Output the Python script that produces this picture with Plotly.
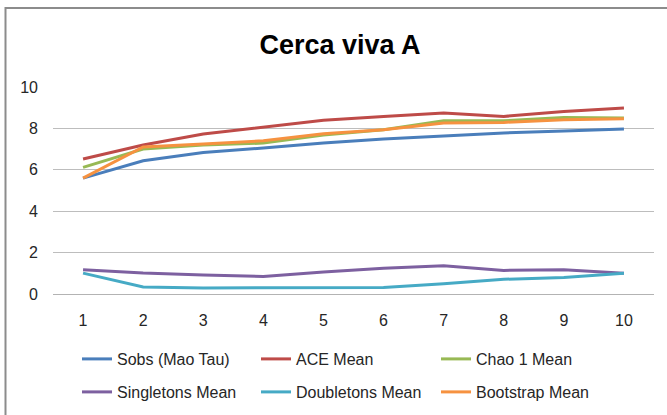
import plotly.graph_objects as go

samples = [1, 2, 3, 4, 5, 6, 7, 8, 9, 10]
tick_labels = ["1", "2", "3", "4", "5", "6", "7", "8", "9", "10"]

sobs = [5.60, 6.44, 6.84, 7.05, 7.30, 7.49, 7.63, 7.78, 7.87, 7.97]
ace = [6.52, 7.20, 7.73, 8.05, 8.39, 8.58, 8.74, 8.58, 8.82, 8.98]
chao1 = [6.12, 7.00, 7.20, 7.29, 7.68, 7.94, 8.37, 8.37, 8.53, 8.50]
singletons = [1.17, 1.01, 0.92, 0.85, 1.06, 1.25, 1.37, 1.14, 1.17, 1.00]
doubletons = [1.01, 0.34, 0.29, 0.29, 0.30, 0.32, 0.50, 0.71, 0.80, 1.00]
bootstrap = [5.60, 7.10, 7.25, 7.40, 7.74, 7.94, 8.26, 8.29, 8.42, 8.47]

series_names = ["Sobs (Mao Tau)", "ACE Mean", "Chao 1 Mean",
                "Singletons Mean", "Doubletons Mean", "Bootstrap Mean"]
series_values = [sobs, ace, chao1, singletons, doubletons, bootstrap]
series_colors = ["#4A7EBB", "#BE4B48", "#98B954", "#7D60A0", "#46AAC5", "#F69240"]

FONT = "Liberation Sans, Arial, sans-serif"
W, H = 667, 415
L, R, T, B = 53, 13, 87, 121

# legend grid: 3 columns x 2 rows (pixel positions of each entry)
legend_cols = [77, 256, 436]
legend_rows = [359, 392]

fig = go.Figure()
legend_layout = {}
for i, (name, vals, color) in enumerate(zip(series_names, series_values, series_colors)):
    lg = "legend" if i == 0 else f"legend{i + 1}"
    fig.add_trace(go.Scatter(
        x=samples, y=vals, name=name, mode="lines", showlegend=True,
        line=dict(color=color, width=3), legend=lg,
    ))
    legend_layout[lg] = dict(
        x=legend_cols[i % 3] / W, y=1 - legend_rows[i // 3] / H,
        xref="container", yref="container", xanchor="left", yanchor="middle",
        orientation="h", font=dict(family=FONT, size=16, color="#262626"),
        bgcolor="rgba(0,0,0,0)", borderwidth=0, itemwidth=30,
    )

plot_w = W - L - R
plot_h = H - T - B
def px_x(p):
    return (p - L) / plot_w
def px_y(p):
    return (H - B - p) / plot_h

fig.update_layout(
    width=W, height=H, showlegend=True,
    margin=dict(l=L, r=R, t=T, b=B, autoexpand=False),
    paper_bgcolor="white", plot_bgcolor="white",
    font=dict(family=FONT, size=16, color="#262626"),
    title=dict(
        text="<b>Cerca viva A</b>", x=340 / W, xanchor="center",
        y=1 - 45 / H, yanchor="middle", xref="container", yref="container",
        font=dict(family=FONT, size=27, color="black"),
    ),
    xaxis=dict(
        range=[0.5, 10.5], tickmode="array", tickvals=samples, ticktext=tick_labels,
        showgrid=False, zeroline=False, showline=True, linecolor="#B3B3B3", linewidth=1,
        ticks="", ticklabelstandoff=12, tickfont=dict(size=16, color="#262626"),
        automargin=False,
    ),
    yaxis=dict(
        range=[0, 10], dtick=2, showgrid=True, gridcolor="#BDBDBD", gridwidth=1,
        zeroline=False, showline=False, ticks="", ticklabelstandoff=14,
        tickfont=dict(size=16, color="#262626"), automargin=False,
    ),
    shapes=[dict(
        type="rect", xref="paper", yref="paper",
        x0=px_x(5.5), x1=px_x(672), y0=px_y(420), y1=px_y(8),
        line=dict(color="#8C8C8C", width=2), fillcolor="rgba(0,0,0,0)", layer="below",
    )],
    **legend_layout,
)

fig.write_html(
    "out.html",
    config={"displayModeBar": False},
    post_script="document.body.style.margin='0';document.body.style.overflow='hidden';",
)
